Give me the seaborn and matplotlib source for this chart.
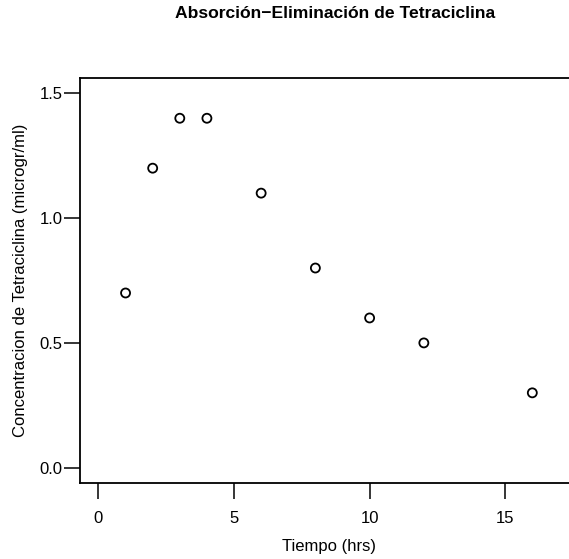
import matplotlib
matplotlib.use("Agg")
import matplotlib.pyplot as plt
import seaborn as sns
import pandas as pd

# Tetracycline concentration over time
tiempo = [1, 2, 3, 4, 6, 8, 10, 12, 16]
concentracion = [0.7, 1.2, 1.4, 1.4, 1.1, 0.8, 0.6, 0.5, 0.3]
x_ticks = [0, 5, 10, 15]
y_ticks = [0.0, 0.5, 1.0, 1.5]
y_tick_labels = ["0.0", "0.5", "1.0", "1.5"]

df = pd.DataFrame({"tiempo": tiempo, "concentracion": concentracion})

sns.set_style("white")
plt.rcParams["font.family"] = ["Liberation Sans", "DejaVu Sans"]

fig = plt.figure(figsize=(5.69, 5.59), dpi=100)
ax = fig.add_axes([0.1406, 0.1365, 0.875, 0.7234])

sns.scatterplot(data=df, x="tiempo", y="concentracion", ax=ax,
                marker="o", s=42, facecolors="none", edgecolor="black",
                linewidth=1.3, legend=False)

ax.set_xlim(-0.68, 17.68)
ax.set_ylim(-0.06, 1.56)
ax.set_xticks(x_ticks)
ax.set_xticklabels([str(t) for t in x_ticks])
ax.set_yticks(y_ticks)
ax.set_yticklabels(y_tick_labels)

for side in ["left", "top", "bottom", "right"]:
    ax.spines[side].set_visible(True)
    ax.spines[side].set_color("black")
    ax.spines[side].set_linewidth(1.3)

ax.tick_params(axis="both", which="major", direction="out", length=11.5,
               width=1.1, color="black", labelsize=12, labelcolor="black")
ax.tick_params(axis="x", pad=9)
ax.tick_params(axis="y", pad=1)
ax.tick_params(bottom=True, left=True)

ax.set_xlabel("Tiempo (hrs)", fontsize=12, color="black", va="center")
ax.set_ylabel("Concentracion de Tetraciclina (microgr/ml)", fontsize=12,
              color="black", va="center")
ax.xaxis.set_label_coords(0.5, (482.7 - 547) / 404.4)
ax.yaxis.set_label_coords((20 - 80) / 498, 0.5)

fig.text(335 / 569, 1 - 13 / 559, "Absorción\u2212Eliminación de Tetraciclina",
         ha="center", va="center", fontsize=12.6, fontweight="bold",
         color="black")

fig.savefig("out.png", dpi=100)
